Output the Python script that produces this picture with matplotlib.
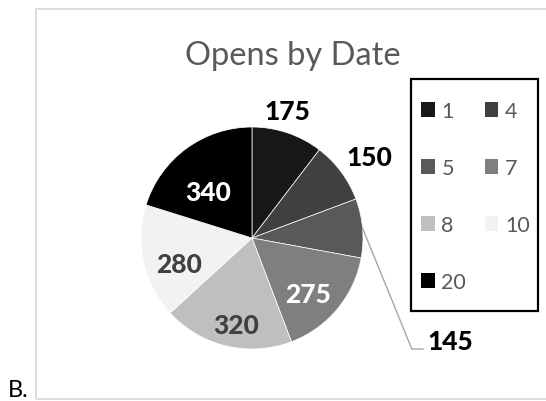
import matplotlib.pyplot as plt
from matplotlib.patches import Rectangle, Patch
import numpy as np

# data
dates = ['1', '4', '5', '7', '8', '10', '20']
opens = [175, 150, 145, 275, 320, 280, 340]
colors = ['#171717', '#404040', '#595959', '#7f7f7f', '#bfbfbf', '#f2f2f2', '#000000']
label_colors = ['black', 'black', 'black', 'white', '#404040', '#404040', 'white']
# where each value label sits: radius factor and angle shift from slice middle
label_radius = [1.19, 1.28, None, 0.71, 0.80, 0.70, 0.57]
label_shift = [3, -2, 0, -5, 3, 7, 7]

W, H = 546, 402
def fx(px):
    return px / W
def fy(py):
    return 1 - py / H

plt.rcParams['font.family'] = ['Lato', 'DejaVu Sans']

fig = plt.figure(figsize=(W / 100, H / 100), dpi=100, facecolor='white')

# chart area border
fig.patches.append(Rectangle((fx(36), fy(400)), fx(560) - fx(36), fy(10) - fy(400),
                             transform=fig.transFigure, fill=False,
                             edgecolor='#d9d9d9', linewidth=1.3))
fig.text(fx(8), fy(397), 'B.', fontsize=17, color='black', ha='left', va='baseline')

# title
fig.text(fx(293), fy(65), 'Opens by Date', fontsize=23.5, color='#595959',
         ha='center', va='baseline')

# pie
cx, cy, r = 252, 239, 111
ax = fig.add_axes([fx(cx - r), fy(cy + r), 2 * r / W, 2 * r / H])
wedges, _ = ax.pie(opens, colors=colors, startangle=90, counterclock=False,
                   radius=1, wedgeprops=dict(edgecolor='white', linewidth=0.5))
ax.set_xlim(-1, 1)
ax.set_ylim(-1, 1)
ax.set_aspect('equal')
ax.axis('off')

for w, v, c, rr, sh in zip(wedges, opens, label_colors, label_radius, label_shift):
    mid = np.deg2rad((w.theta1 + w.theta2) / 2)
    if rr is None:
        # leader line for the small slice
        x0, y0 = np.cos(mid), np.sin(mid)
        ax.plot([x0, 1.44, 1.54], [y0, -1.0, -1.0], color='#a6a6a6', lw=1,
                clip_on=False)
        ax.text(1.58, -0.93, str(v), fontsize=19, fontweight='black', color=c,
                ha='left', va='center')
        continue
    a = mid + np.deg2rad(sh)
    ax.text(rr * np.cos(a), rr * np.sin(a), str(v), fontsize=19,
            fontweight='black', color=c, ha='center', va='center')

# legend box
fig.patches.append(Rectangle((fx(411), fy(312)), fx(538) - fx(411), fy(80) - fy(312),
                             transform=fig.transFigure, fill=False,
                             edgecolor='black', linewidth=1.6))
handles = [Patch(facecolor=c, edgecolor='none', label=d) for d, c in zip(dates, colors)]
order = [0, 2, 4, 6, 1, 3, 5]
fig.legend([handles[i] for i in order], [dates[i] for i in order], ncol=2,
           loc='upper left', bbox_to_anchor=(fx(421), fy(102)), frameon=False,
           fontsize=15.5, labelcolor='#595959', handlelength=0.65, handleheight=0.65,
           handletextpad=0.3, columnspacing=0.85, labelspacing=1.72,
           borderpad=0, borderaxespad=0)

fig.savefig('out.png', dpi=100)
